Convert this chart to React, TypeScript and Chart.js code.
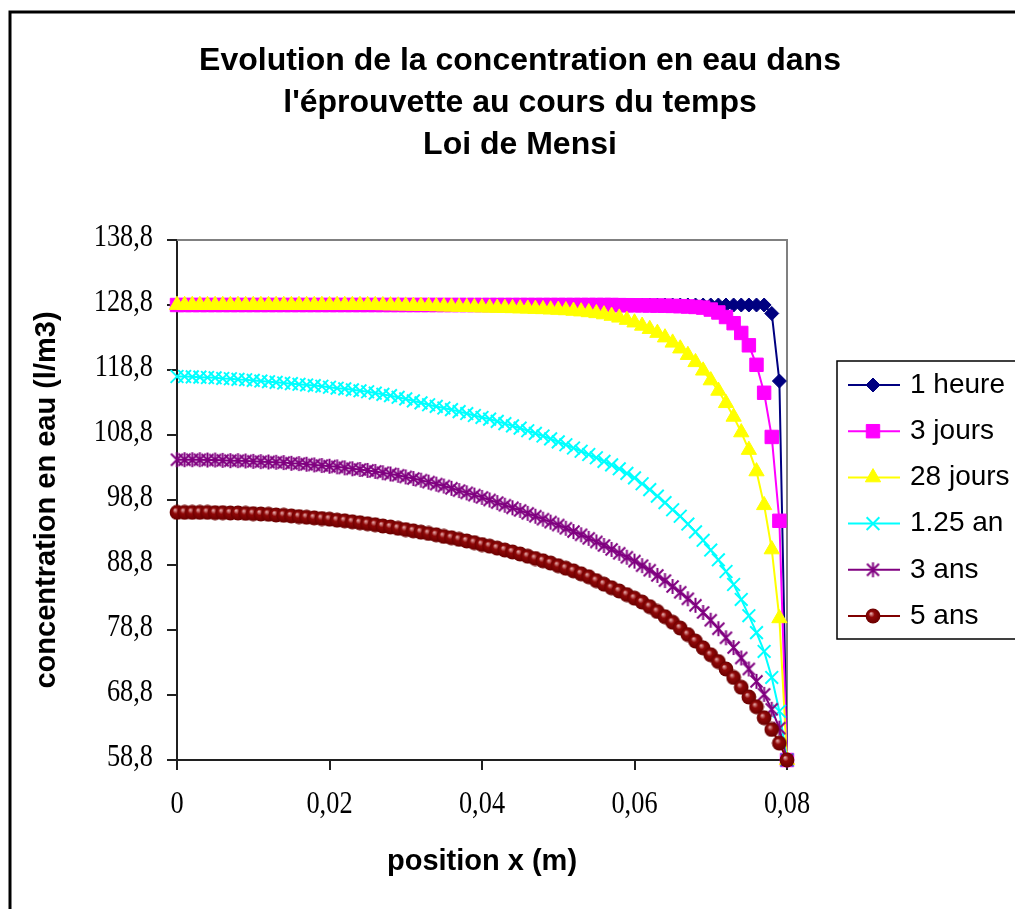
import React, { useEffect, useRef } from 'react';
import { Chart, registerables } from 'chart.js';
import { drawPoint } from 'chart.js/helpers';

Chart.register(...registerables);

// ---- data ----
const positions = [
  0, 0.001, 0.002, 0.003, 0.004, 0.005, 0.006, 0.007, 0.008, 0.009,
  0.01, 0.011, 0.012, 0.013, 0.014, 0.015, 0.016, 0.017, 0.018, 0.019,
  0.02, 0.021, 0.022, 0.023, 0.024, 0.025, 0.026, 0.027, 0.028, 0.029,
  0.03, 0.031, 0.032, 0.033, 0.034, 0.035, 0.036, 0.037, 0.038, 0.039,
  0.04, 0.041, 0.042, 0.043, 0.044, 0.045, 0.046, 0.047, 0.048, 0.049,
  0.05, 0.051, 0.052, 0.053, 0.054, 0.055, 0.056, 0.057, 0.058, 0.059,
  0.06, 0.061, 0.062, 0.063, 0.064, 0.065, 0.066, 0.067, 0.068, 0.069,
  0.07, 0.071, 0.072, 0.073, 0.074, 0.075, 0.076, 0.077, 0.078, 0.079,
  0.08,
];

const heure1 = [
  128.8, 128.8, 128.8, 128.8, 128.8, 128.8, 128.8, 128.8, 128.8, 128.8,
  128.8, 128.8, 128.8, 128.8, 128.8, 128.8, 128.8, 128.8, 128.8, 128.8,
  128.8, 128.8, 128.8, 128.8, 128.8, 128.8, 128.8, 128.8, 128.8, 128.8,
  128.8, 128.8, 128.8, 128.8, 128.8, 128.8, 128.8, 128.8, 128.8, 128.8,
  128.8, 128.8, 128.8, 128.8, 128.8, 128.8, 128.8, 128.8, 128.8, 128.8,
  128.8, 128.8, 128.8, 128.8, 128.8, 128.8, 128.8, 128.8, 128.8, 128.8,
  128.8, 128.8, 128.8, 128.8, 128.8, 128.8, 128.8, 128.8, 128.8, 128.8,
  128.8, 128.8, 128.8, 128.8, 128.8, 128.8, 128.8, 128.8, 127.5, 117.1,
  58.8,
];

const jours3 = [
  128.8, 128.8, 128.8, 128.8, 128.8, 128.8, 128.8, 128.8, 128.8, 128.8,
  128.8, 128.8, 128.8, 128.8, 128.8, 128.8, 128.8, 128.8, 128.8, 128.8,
  128.8, 128.8, 128.8, 128.8, 128.8, 128.8, 128.8, 128.8, 128.8, 128.8,
  128.8, 128.8, 128.8, 128.8, 128.8, 128.8, 128.8, 128.8, 128.8, 128.8,
  128.8, 128.8, 128.8, 128.8, 128.8, 128.8, 128.8, 128.8, 128.8, 128.8,
  128.8, 128.8, 128.8, 128.8, 128.8, 128.8, 128.8, 128.8, 128.78, 128.77,
  128.76, 128.75, 128.73, 128.71, 128.69, 128.66, 128.62, 128.57, 128.5, 128.4,
  128.1, 127.65, 126.95, 126.0, 124.5, 122.6, 119.6, 115.3, 108.5, 95.6,
  58.8,
];

const jours28 = [
  128.8, 128.8, 128.8, 128.8, 128.8, 128.8, 128.8, 128.8, 128.8, 128.8,
  128.8, 128.8, 128.8, 128.8, 128.8, 128.8, 128.8, 128.8, 128.8, 128.8,
  128.8, 128.8, 128.8, 128.8, 128.8, 128.8, 128.78, 128.76, 128.74, 128.72,
  128.7, 128.68, 128.66, 128.63, 128.6, 128.57, 128.54, 128.51, 128.48, 128.45,
  128.42, 128.39, 128.36, 128.33, 128.3, 128.27, 128.23, 128.19, 128.15, 128.1,
  128.05, 127.98, 127.9, 127.8, 127.68, 127.53, 127.35, 127.12, 126.85, 126.5,
  126.1, 125.6, 125.1, 124.5, 123.8, 123.0, 122.1, 121.1, 120.0, 118.7,
  117.2, 115.6, 113.7, 111.6, 109.2, 106.5, 103.2, 98.0, 91.2, 80.6,
  58.8,
];

const an125 = [
  117.8, 117.8, 117.75, 117.7, 117.65, 117.6, 117.5, 117.45, 117.35, 117.3,
  117.2, 117.1, 117.0, 116.9, 116.8, 116.7, 116.6, 116.5, 116.4, 116.3,
  116.15, 116.0, 115.9, 115.75, 115.6, 115.45, 115.25, 115.05, 114.85, 114.6,
  114.35, 114.05, 113.75, 113.45, 113.2, 112.95, 112.7, 112.4, 112.1, 111.8,
  111.5, 111.25, 110.9, 110.55, 110.2, 109.85, 109.45, 109.05, 108.65, 108.2,
  107.75, 107.3, 106.8, 106.3, 105.8, 105.3, 104.75, 104.2, 103.6, 102.9,
  102.2, 101.3, 100.4, 99.4, 98.4, 97.3, 96.3, 95.1, 93.9, 92.6,
  91.1, 89.6, 87.8, 85.8, 83.5, 81.0, 78.4, 75.5, 71.5, 66.3,
  58.8,
];

const ans3 = [
  105.0, 105.0, 105.0, 105.0, 104.95, 104.95, 104.9, 104.85, 104.85, 104.8,
  104.75, 104.7, 104.65, 104.6, 104.55, 104.45, 104.4, 104.3, 104.2, 104.1,
  104.0, 103.9, 103.75, 103.6, 103.5, 103.35, 103.2, 103.0, 102.8, 102.6,
  102.35, 102.1, 101.85, 101.55, 101.25, 100.95, 100.6, 100.25, 99.9, 99.55,
  99.2, 98.8, 98.4, 98.0, 97.6, 97.2, 96.75, 96.3, 95.85, 95.4,
  94.95, 94.45, 93.95, 93.45, 92.9, 92.35, 91.8, 91.2, 90.6, 90.0,
  89.4, 88.7, 88.0, 87.2, 86.4, 85.5, 84.6, 83.6, 82.6, 81.5,
  80.3, 79.0, 77.6, 76.1, 74.5, 72.8, 70.9, 68.9, 66.6, 63.7,
  58.8,
];

const ans5 = [
  96.9, 96.9, 96.9, 96.9, 96.9, 96.85, 96.85, 96.8, 96.8, 96.75,
  96.7, 96.65, 96.6, 96.5, 96.45, 96.35, 96.25, 96.15, 96.05, 95.95,
  95.85, 95.7, 95.6, 95.45, 95.3, 95.15, 95.0, 94.8, 94.65, 94.45,
  94.25, 94.05, 93.85, 93.65, 93.45, 93.2, 93.0, 92.75, 92.5, 92.25,
  91.95, 91.7, 91.4, 91.1, 90.8, 90.5, 90.15, 89.8, 89.45, 89.1,
  88.7, 88.3, 87.9, 87.45, 87.0, 86.4, 85.85, 85.3, 84.8, 84.25,
  83.7, 83.1, 82.4, 81.65, 80.85, 80.0, 79.1, 78.1, 77.1, 76.05,
  75.0, 73.95, 72.8, 71.5, 70.0, 68.5, 67.0, 65.3, 63.5, 61.4,
  58.8,
];

const seriesLabels = ['1 heure', '3 jours', '28 jours', '1.25 an', '3 ans', '5 ans'];
const seriesValues = [heure1, jours3, jours28, an125, ans3, ans5];

const xTickValues = [0, 0.02, 0.04, 0.06, 0.08];
const xTickLabels = ['0', '0,02', '0,04', '0,06', '0,08'];
const yTickValues = [58.8, 68.8, 78.8, 88.8, 98.8, 108.8, 118.8, 128.8, 138.8];
const yTickLabels = ['58,8', '68,8', '78,8', '88,8', '98,8', '108,8', '118,8', '128,8', '138,8'];

const titleLines = [
  'Evolution de la concentration en eau dans',
  "l'éprouvette au cours du temps",
  'Loi de Mensi',
];
const xTitle = 'position x (m)';
const yTitle = 'concentration en eau (l/m3)';

// ---- styling ----
const SANS = '"Liberation Sans", Arial, sans-serif';
const SERIF = '"Liberation Serif", "Times New Roman", serif';

function makeImg(size: number, draw: (g: CanvasRenderingContext2D, s: number) => void) {
  const c = document.createElement('canvas');
  c.width = size;
  c.height = size;
  const g = c.getContext('2d')!;
  draw(g, size);
  return c;
}

export default function App() {
  const ref = useRef<HTMLCanvasElement>(null);

  useEffect(() => {
    document.body.style.margin = '0';
    document.body.style.overflow = 'hidden';
    const canvas = ref.current!;

    const starImg = makeImg(17, (g) => {
      g.strokeStyle = '#800080';
      g.lineWidth = 2;
      g.beginPath();
      g.moveTo(2.5, 2.5); g.lineTo(14.5, 14.5);
      g.moveTo(14.5, 2.5); g.lineTo(2.5, 14.5);
      g.moveTo(8.5, 1); g.lineTo(8.5, 16);
      g.stroke();
    });
    const ballImg = makeImg(16, (g) => {
      const gr = g.createRadialGradient(6, 5.5, 0.5, 8, 8, 7.5);
      gr.addColorStop(0, '#e0a0a0');
      gr.addColorStop(0.35, '#900808');
      gr.addColorStop(1, '#6a0000');
      g.fillStyle = gr;
      g.beginPath();
      g.arc(8, 8, 7.4, 0, Math.PI * 2);
      g.fill();
    });

    const colors = ['#000080', '#FF00FF', '#FFFF00', '#00FFFF', '#800080', '#800000'];
    const styles: any[] = ['rectRot', 'rect', 'triangle', 'crossRot', starImg, ballImg];
    const radii = [7, 9.5, 8.8, 9, 7, 7];
    const pBorder = [1, 1, 1, 2, 1, 1];

    const datasets = seriesLabels.map((label, i) => ({
      label,
      data: positions.map((x, k) => ({ x, y: seriesValues[i][k] })),
      borderColor: colors[i],
      backgroundColor: colors[i],
      borderWidth: 2,
      pointStyle: styles[i],
      pointRadius: radii[i],
      pointBorderColor: colors[i],
      pointBackgroundColor: colors[i],
      pointBorderWidth: pBorder[i],
      tension: 0,
      clip: false as any,
      order: seriesLabels.length - i,
    }));

    const TICK_FONT = `31px ${SERIF}`;
    const TICK_SX = 0.85;

    const decor = {
      id: 'decor',
      beforeDraw(chart: any) {
        const ctx = chart.ctx;
        ctx.save();
        ctx.fillStyle = '#fff';
        ctx.fillRect(0, 0, chart.width, chart.height);
        ctx.restore();
      },
      beforeDatasetsDraw(chart: any) {
        const { ctx, chartArea } = chart;
        ctx.save();
        ctx.strokeStyle = '#808080';
        ctx.lineWidth = 2;
        ctx.beginPath();
        ctx.moveTo(chartArea.left, chartArea.top);
        ctx.lineTo(chartArea.right, chartArea.top);
        ctx.lineTo(chartArea.right, chartArea.bottom);
        ctx.stroke();
        ctx.restore();
      },
      afterDraw(chart: any) {
        const { ctx, chartArea } = chart;
        const xs = chart.scales.x;
        const ys = chart.scales.y;
        ctx.save();
        // outer frame
        ctx.strokeStyle = '#000';
        ctx.lineWidth = 3;
        ctx.beginPath();
        ctx.moveTo(chart.width + 5, 12);
        ctx.lineTo(10, 12);
        ctx.lineTo(10, chart.height + 5);
        ctx.stroke();

        // tick labels (narrow serif, like the original)
        ctx.fillStyle = '#000';
        ctx.font = TICK_FONT;
        ctx.textBaseline = 'alphabetic';
        ctx.textAlign = 'right';
        yTickValues.forEach((v, i) => {
          const py = ys.getPixelForValue(v);
          ctx.save();
          ctx.translate(chartArea.left - 24, py + 5.5);
          ctx.scale(TICK_SX, 1);
          ctx.fillText(yTickLabels[i], 0, 0);
          ctx.restore();
        });
        ctx.textAlign = 'center';
        xTickValues.forEach((v, i) => {
          const px = xs.getPixelForValue(v);
          ctx.save();
          ctx.translate(px, 813);
          ctx.scale(TICK_SX, 1);
          ctx.fillText(xTickLabels[i], 0, 0);
          ctx.restore();
        });

        // title
        ctx.textAlign = 'center';
        ctx.textBaseline = 'middle';
        ctx.font = `bold 32px ${SANS}`;
        const ty = [61, 103, 145];
        titleLines.forEach((t, i) => ctx.fillText(t, 520, ty[i]));

        // axis titles
        ctx.font = `bold 29px ${SANS}`;
        ctx.fillText(xTitle, (chartArea.left + chartArea.right) / 2, 862);
        ctx.save();
        ctx.translate(47, (chartArea.top + chartArea.bottom) / 2);
        ctx.rotate(-Math.PI / 2);
        ctx.fillText(yTitle, 0, 0);
        ctx.restore();

        // legend
        ctx.strokeStyle = '#000';
        ctx.lineWidth = 1.5;
        ctx.strokeRect(837, 361, 400, 278);
        ctx.font = `28px ${SANS}`;
        ctx.textAlign = 'left';
        chart.data.datasets.forEach((ds: any, i: number) => {
          const y = 385 + 46.2 * i;
          ctx.strokeStyle = ds.borderColor;
          ctx.lineWidth = 2;
          ctx.beginPath();
          ctx.moveTo(848, y);
          ctx.lineTo(900, y);
          ctx.stroke();
          ctx.fillStyle = ds.pointBackgroundColor;
          ctx.strokeStyle = ds.pointBorderColor;
          ctx.lineWidth = ds.pointBorderWidth;
          drawPoint(ctx, { pointStyle: ds.pointStyle, radius: ds.pointRadius, borderWidth: ds.pointBorderWidth, rotation: 0 } as any, 873, y);
          ctx.fillStyle = '#000';
          ctx.fillText(ds.label, 910, y);
        });
        ctx.restore();
      },
    };

    const chart = new Chart(canvas, {
      type: 'line',
      data: { datasets: datasets as any },
      options: {
        responsive: false,
        animation: false,
        events: [],
        layout: { padding: { left: 0, top: 240, right: 228, bottom: 0 } },
        plugins: {
          legend: { display: false },
          title: { display: false },
          tooltip: { enabled: false },
        },
        scales: {
          x: {
            type: 'linear',
            min: 0,
            max: 0.08,
            afterBuildTicks: (axis: any) => {
              axis.ticks = xTickValues.map((v) => ({ value: v }));
            },
            afterFit: (axis: any) => {
              axis.height = 149;
            },
            ticks: { display: false, autoSkip: false, maxRotation: 0 },
            grid: { drawOnChartArea: false, drawTicks: true, tickLength: 10, color: '#202020', lineWidth: 2 },
            border: { display: true, color: '#202020', width: 2 },
          },
          y: {
            type: 'linear',
            min: 58.8,
            max: 138.8,
            afterBuildTicks: (axis: any) => {
              axis.ticks = yTickValues.map((v) => ({ value: v }));
            },
            afterFit: (axis: any) => {
              axis.width = 177;
            },
            ticks: { display: false, autoSkip: false },
            grid: { drawOnChartArea: false, drawTicks: true, tickLength: 10, color: '#202020', lineWidth: 2 },
            border: { display: true, color: '#202020', width: 2 },
          },
        },
      },
      plugins: [decor],
    });

    return () => chart.destroy();
  }, []);

  return (
    <canvas ref={ref} width={1015} height={909} style={{ display: 'block', width: 1015, height: 909 }} />
  );
}
